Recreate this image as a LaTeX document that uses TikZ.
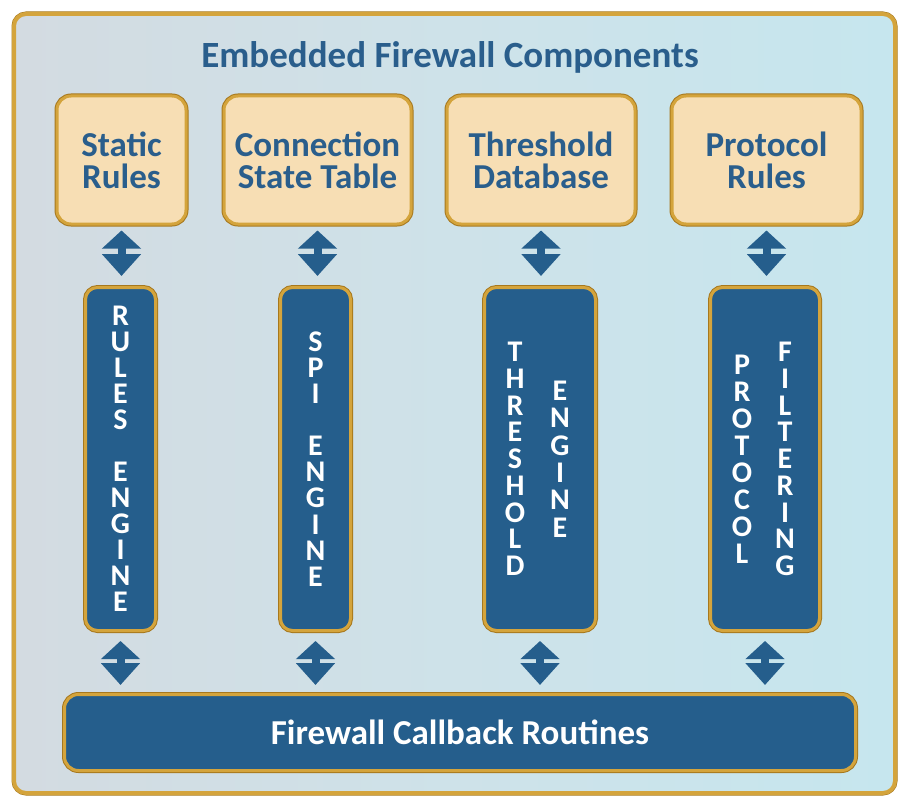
\documentclass[tikz,border=0pt]{standalone}
\usepackage{fontspec}
\setmainfont{Carlito}
\usetikzlibrary{arrows.meta,calc}

\definecolor{navy}{HTML}{255E8C}
\definecolor{inkblue}{HTML}{2A5E8C}
\definecolor{gold}{HTML}{D4A43C}
\definecolor{golddark}{HTML}{A7781D}
\definecolor{peach}{HTML}{F7DEB4}
\definecolor{panelL}{HTML}{D3DBE1}
\definecolor{panelM}{HTML}{CEE2E9}
\definecolor{panelR}{HTML}{C6E6EE}

\tikzset{
  goldrim/.style={draw=gold, line width=3pt,
    preaction={draw=golddark, line width=5pt}},
  store/.style={goldrim, fill=peach, rounded corners=14pt,
    minimum height=128pt, inner sep=0pt, align=center,
    text=inkblue, font=\bfseries\fontsize{35}{32}\selectfont},
  engine/.style={goldrim, fill=navy, rounded corners=12pt,
    minimum height=343pt, inner sep=0pt},
  letters/.style={text=white, align=center, inner sep=0pt,
    font=\bfseries\fontsize{30}{#1}\selectfont},
  link/.style={draw=navy, line width=8pt,
    {Triangle[width=38pt,length=18pt]}-{Triangle[width=38pt,length=22pt]}},
}

\begin{document}
\begin{tikzpicture}[x=1pt, y=-1pt]
  % page and panel
  \fill[white] (0,0) rectangle (900,797);
  \useasboundingbox (0,0) rectangle (900,797);
  \draw[goldrim, line width=4pt, rounded corners=12pt, left color=panelL,
        right color=panelR, middle color=panelM] (14,14) rectangle (895,793);

  \node[anchor=base, text=inkblue, font=\bfseries\fontsize{37}{37}\selectfont]
    (title) at (450,68) {Embedded Firewall Components};

  % data stores
  \node[store, minimum width=129pt] (sr)  at (121.5,160) {Static\\Rules};
  \node[store, minimum width=187pt] (cst) at (317.5,160) {Connection\\State Table};
  \node[store, minimum width=188pt] (td)  at (541,160)   {Threshold\\Database};
  \node[store, minimum width=189pt] (pr)  at (766.5,160) {Protocol\\Rules};

  % engines
  \node[engine, minimum width=70pt]  (re)  at (120.5,459) {};
  \node[engine, minimum width=70pt]  (spi) at (315.5,459) {};
  \node[engine, minimum width=111pt] (te)  at (540,459)   {};
  \node[engine, minimum width=109pt] (pf)  at (765,459)   {};

  \node[letters=26]    (reT)  at (re.center)  {R\\U\\L\\E\\S\\~\\E\\N\\G\\I\\N\\E};
  \node[letters=26.1]  (spiT) at (spi.center) {S\\P\\I\\~\\E\\N\\G\\I\\N\\E};
  \node[letters=26.75] (teA)  at ([xshift=-25pt]te.center) {T\\H\\R\\E\\S\\H\\O\\L\\D};
  \node[letters=27.4]  (teB)  at ([xshift=20pt]te.center)  {E\\N\\G\\I\\N\\E};
  \node[letters=27]    (pfA)  at ([xshift=-23pt]pf.center) {P\\R\\O\\T\\O\\C\\O\\L};
  \node[letters=26.75] (pfB)  at ([xshift=20pt]pf.center)  {F\\I\\L\\T\\E\\R\\I\\N\\G};

  % callback bar
  \node[goldrim, fill=navy, rounded corners=14pt, minimum width=791pt,
        minimum height=76pt, text=white,
        font=\bfseries\fontsize{35}{35}\selectfont]
    (fcr) at (460,732.5) {Firewall Callback Routines};

  % two-way links
  \foreach \a/\b in {sr/re, cst/spi, td/te, pr/pf}{
    \draw[link, shorten <=5pt, shorten >=10pt] (\a.south) -- (\a.south |- \b.north);
    \draw[link, shorten <=9pt, shorten >=8pt] (\b.south) -- (\b.south |- fcr.north);
  }
\end{tikzpicture}
\end{document}
